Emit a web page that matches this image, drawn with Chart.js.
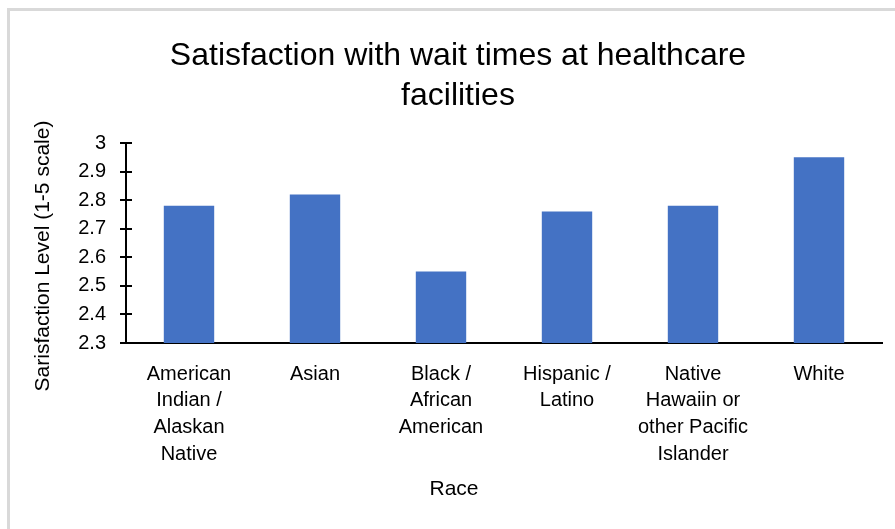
<!DOCTYPE html>
<html>
<head>
<meta charset="utf-8">
<script src="https://cdn.jsdelivr.net/npm/chart.js@4/dist/chart.umd.min.js"></script>
<style>
  html, body { margin: 0; padding: 0; background: #fff; overflow: hidden; }
  #wrap { position: relative; width: 895px; height: 529px; }
  #frame { position: absolute; left: 7px; top: 8px; width: 900px; height: 540px;
           border-top: 3px solid #d9d9d9; border-left: 3px solid #d9d9d9; }
  canvas { position: absolute; left: 0; top: 0; }
</style>
</head>
<body>
<div id="wrap">
  <div id="frame"></div>
  <canvas id="c" width="895" height="529"></canvas>
</div>
<script>
const chartTitle = ['Satisfaction with wait times at healthcare', 'facilities'];
const xTitle = 'Race';
const yTitle = 'Sarisfaction Level (1-5 scale)';

const categories = [
  ['American', 'Indian /', 'Alaskan', 'Native'],
  'Asian',
  ['Black /', 'African', 'American'],
  ['Hispanic /', 'Latino'],
  ['Native', 'Hawaiin or', 'other Pacific', 'Islander'],
  'White'
];
const satisfaction = [2.78, 2.82, 2.55, 2.76, 2.78, 2.95];
const yTicks = [2.3, 2.4, 2.5, 2.6, 2.7, 2.8, 2.9, 3.0];

const FONT = '"Liberation Sans", Arial, sans-serif';

// Cross-style tick marks on the value axis plus the two axis captions.
const axisDecor = {
  id: 'axisDecor',
  afterDraw(chart) {
    const { ctx, chartArea, scales } = chart;
    const y = scales.y;
    ctx.save();
    ctx.strokeStyle = '#000';
    ctx.lineWidth = 2;
    yTicks.forEach(v => {
      const py = Math.round(y.getPixelForValue(v));
      ctx.beginPath();
      ctx.moveTo(chartArea.left - 6, py);
      ctx.lineTo(chartArea.left + 6, py);
      ctx.stroke();
    });
    ctx.fillStyle = '#000';
    ctx.font = '21px ' + FONT;
    ctx.textAlign = 'center';
    ctx.textBaseline = 'middle';
    ctx.fillText(xTitle, 454, 489);
    ctx.translate(43, 256);
    ctx.rotate(-Math.PI / 2);
    ctx.fillText(yTitle, 0, 0);
    ctx.restore();
  }
};

new Chart(document.getElementById('c'), {
  type: 'bar',
  data: {
    labels: categories,
    datasets: [{
      data: satisfaction,
      backgroundColor: '#4472C4',
      borderWidth: 0,
      barPercentage: 0.4,
      categoryPercentage: 1.0
    }]
  },
  options: {
    responsive: false,
    devicePixelRatio: 1,
    animation: false,
    events: [],
    layout: { padding: { left: 34, right: 13, top: 0, bottom: 0 } },
    plugins: {
      legend: { display: false },
      tooltip: { enabled: false },
      title: {
        display: true,
        text: chartTitle,
        color: '#000',
        font: { family: FONT, size: 32, weight: 'normal', lineHeight: 1.25 },
        padding: { top: 36, bottom: 27 }
      }
    },
    scales: {
      x: {
        grid: { display: false, drawTicks: false, tickLength: 0 },
        border: { display: true, color: '#000', width: 2 },
        ticks: {
          color: '#000',
          font: { family: FONT, size: 20, lineHeight: 1.33 },
          padding: 18,
          maxRotation: 0,
          autoSkip: false
        },
        afterFit(scale) { scale.height = 186; }
      },
      y: {
        min: 2.3,
        max: 3.0,
        afterBuildTicks(scale) { scale.ticks = yTicks.map(v => ({ value: v })); },
        grid: { display: false, drawTicks: false, tickLength: 0 },
        border: { display: true, color: '#000', width: 2 },
        ticks: {
          color: '#000',
          font: { family: FONT, size: 20 },
          padding: 20,
          callback: v => String(Math.round(v * 10) / 10)
        },
        afterFit(scale) { scale.width = 92; }
      }
    }
  },
  plugins: [axisDecor]
});
</script>
</body>
</html>
